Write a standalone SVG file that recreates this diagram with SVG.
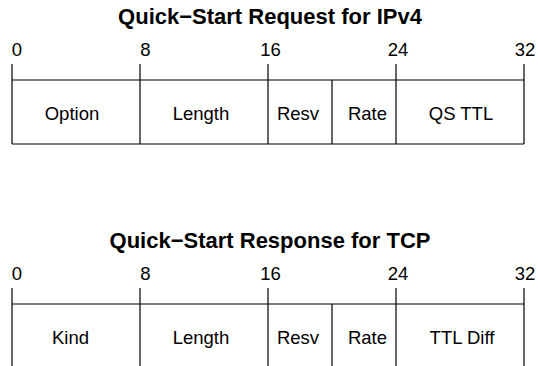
<svg xmlns="http://www.w3.org/2000/svg" width="538" height="366" viewBox="0 0 538 366">
<style>
text{font-family:"Liberation Sans",Arial,sans-serif;fill:#000}
.t{font-size:22px;font-weight:bold;text-anchor:middle}
.n{font-size:18.5px;text-anchor:middle}
.l{font-size:18.5px;text-anchor:middle}
line{stroke:#000;stroke-width:1.2}
</style>
<g id="request">
<text class="t" x="270" y="24">Quick−Start Request for IPv4</text>
<g id="req-scale">
<text class="n" x="17" y="56">0</text>
<text class="n" x="145.5" y="56">8</text>
<text class="n" x="270.5" y="56">16</text>
<text class="n" x="398" y="56">24</text>
<text class="n" x="525" y="56">32</text>
</g>
<g id="req-lines">
<line x1="12" y1="80" x2="524" y2="80"/>
<line x1="12" y1="144" x2="524" y2="144"/>
<line x1="12" y1="64" x2="12" y2="144"/>
<line x1="140" y1="64" x2="140" y2="144"/>
<line x1="268" y1="64" x2="268" y2="144"/>
<line x1="332" y1="80" x2="332" y2="144"/>
<line x1="396" y1="64" x2="396" y2="144"/>
<line x1="524" y1="64" x2="524" y2="144"/>
</g>
<g id="req-option"><text class="l" x="72" y="120">Option</text></g>
<g id="req-length"><text class="l" x="201" y="120">Length</text></g>
<g id="req-resv"><text class="l" x="298" y="120">Resv</text></g>
<g id="req-rate"><text class="l" x="367.5" y="120">Rate</text></g>
<g id="req-qsttl"><text class="l" x="461" y="120">QS TTL</text></g>
</g>
<g id="response">
<text class="t" x="270" y="248">Quick−Start Response for TCP</text>
<g id="resp-scale">
<text class="n" x="17" y="280">0</text>
<text class="n" x="145.5" y="280">8</text>
<text class="n" x="270.5" y="280">16</text>
<text class="n" x="398" y="280">24</text>
<text class="n" x="525" y="280">32</text>
</g>
<g id="resp-lines">
<line x1="12" y1="304" x2="524" y2="304"/>
<line x1="12" y1="368" x2="524" y2="368"/>
<line x1="12" y1="288" x2="12" y2="368"/>
<line x1="140" y1="288" x2="140" y2="368"/>
<line x1="268" y1="288" x2="268" y2="368"/>
<line x1="332" y1="304" x2="332" y2="368"/>
<line x1="396" y1="288" x2="396" y2="368"/>
<line x1="524" y1="288" x2="524" y2="368"/>
</g>
<g id="resp-kind"><text class="l" x="70.5" y="344">Kind</text></g>
<g id="resp-length"><text class="l" x="201" y="344">Length</text></g>
<g id="resp-resv"><text class="l" x="298" y="344">Resv</text></g>
<g id="resp-rate"><text class="l" x="367.5" y="344">Rate</text></g>
<g id="resp-ttldiff"><text class="l" x="462" y="344">TTL Diff</text></g>
</g>
</svg>
